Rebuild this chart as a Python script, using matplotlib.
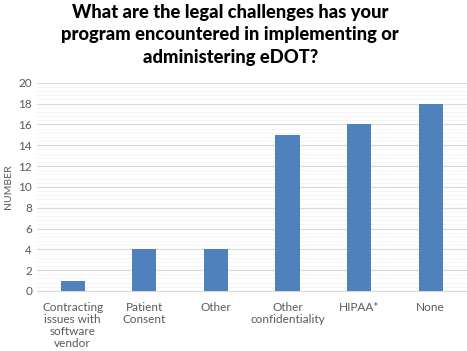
import matplotlib.pyplot as plt
from matplotlib.ticker import MultipleLocator

categories = ['Contracting\nissues with\nsoftware\nvendor', 'Patient\nConsent', 'Other',
              'Other\nconfidentiality', 'HIPAA*', 'None']
values = [1, 4, 4, 15, 16, 18]

plt.rcParams['font.family'] = ['Lato', 'DejaVu Sans']

fig = plt.figure(figsize=(4.67, 3.51), dpi=100)
ax = fig.add_axes([0.079, 0.171, 0.92, 0.593])

x = range(len(categories))
ax.bar(x, values, width=0.34, color='#4f81bd', zorder=3)

ax.set_xlim(-0.5, len(categories) - 0.5)
ax.set_ylim(0, 20)
ax.yaxis.set_major_locator(MultipleLocator(2))
ax.yaxis.set_minor_locator(MultipleLocator(0.4))
ax.grid(axis='y', which='major', color='#d9d9d9', linewidth=0.8, zorder=0)
ax.grid(axis='y', which='minor', color='#f2f2f2', linewidth=0.6, zorder=0)

ax.set_xticks(list(x))
ax.set_xticklabels(categories, fontsize=8.5, color='#595959', linespacing=1.1)
ax.tick_params(axis='y', labelsize=8.5, colors='#595959', length=0, which='both')
ax.tick_params(axis='x', length=0, pad=8)
ax.set_ylabel('NUMBER', fontsize=7.5, color='#595959', labelpad=4)

for s in ['top', 'right', 'left']:
    ax.spines[s].set_visible(False)
ax.spines['bottom'].set_color('#d9d9d9')

fig.suptitle('What are the legal challenges has your\nprogram encountered in implementing or\nadministering eDOT?',
             fontsize=13.2, fontweight='black', y=0.99, x=0.493, linespacing=1.4)

fig.savefig('out.png', dpi=100)
